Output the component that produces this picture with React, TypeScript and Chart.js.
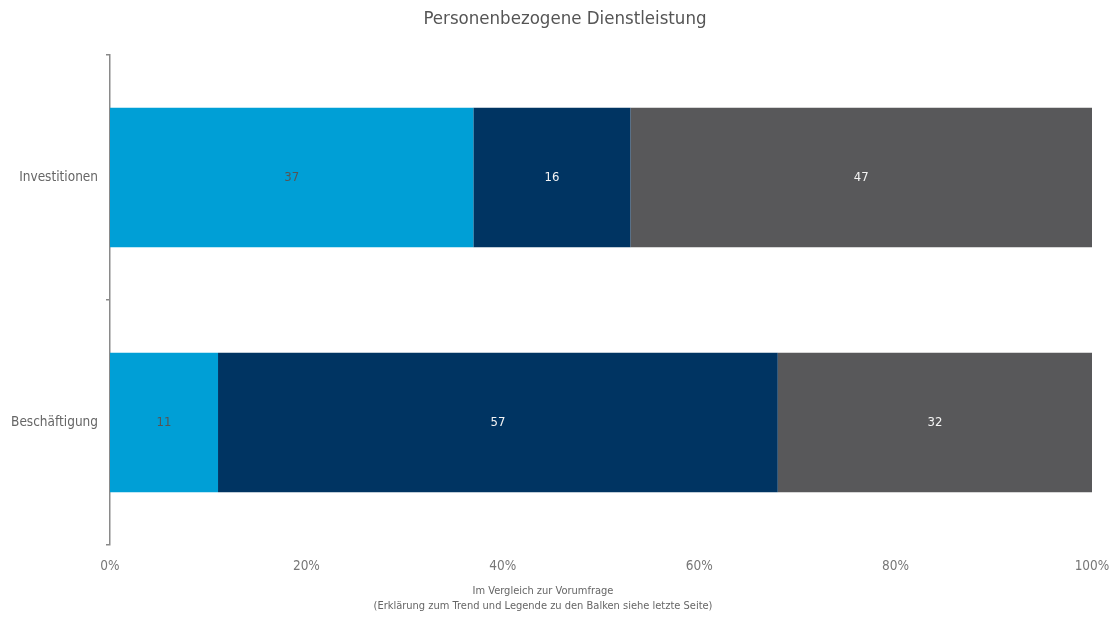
import React, { useEffect, useRef } from "react";
import { Chart, registerables } from "chart.js";

Chart.register(...registerables);

const categories = ["Investitionen", "Beschäftigung"];
const lightValues = [37, 11];
const darkValues = [16, 57];
const greyValues = [47, 32];
const xTicks = [0, 20, 40, 60, 80, 100];
const titleText = "Personenbezogene Dienstleistung";
const footerLines = [
  "Im Vergleich zur Vorumfrage",
  "(Erklärung zum Trend und Legende zu den Balken siehe letzte Seite)",
];

const FONT = '"DejaVu Sans Condensed", "Liberation Sans Narrow", sans-serif';

const textPlugin = {
  id: "texts",
  afterDraw(chart: any) {
    const ctx = chart.ctx;
    ctx.save();
    ctx.textAlign = "center";
    ctx.textBaseline = "middle";
    ctx.fillStyle = "#555";
    ctx.font = `18.5px ${FONT}`;
    ctx.fillText(titleText, 565, 19);
    ctx.font = `11px ${FONT}`;
    ctx.fillStyle = "#666";
    ctx.fillText(footerLines[0], 543, 591);
    ctx.fillText(footerLines[1], 543, 606);
    ctx.font = `13px ${FONT}`;
    chart.data.datasets.forEach((ds: any, di: number) => {
      const meta = chart.getDatasetMeta(di);
      meta.data.forEach((el: any, i: number) => {
        const v = ds.data[i];
        const x = (el.x + el.base) / 2;
        ctx.fillStyle = di === 0 ? "#555" : "#f4f4f4";
        ctx.fillText(String(v), x, el.y);
      });
    });
    ctx.restore();
  },
};

export default function App() {
  const ref = useRef<HTMLCanvasElement | null>(null);
  useEffect(() => {
    if (!ref.current) return;
    const chart = new Chart(ref.current, {
      type: "bar",
      data: {
        labels: categories,
        datasets: [
          { data: lightValues, backgroundColor: "#009fd6", barPercentage: 0.57, categoryPercentage: 1 },
          { data: darkValues, backgroundColor: "#003462", barPercentage: 0.57, categoryPercentage: 1 },
          { data: greyValues, backgroundColor: "#58585a", barPercentage: 0.57, categoryPercentage: 1 },
        ],
      },
      options: {
        indexAxis: "y",
        animation: false,
        responsive: true,
        maintainAspectRatio: false,
        layout: { padding: { top: 55, right: 23, left: 0, bottom: 0 } },
        plugins: { legend: { display: false }, tooltip: { enabled: false }, title: { display: false } },
        scales: {
          x: {
            stacked: true,
            min: 0,
            max: 100,
            afterFit(scale: any) {
              scale.height = 73;
              scale.paddingLeft = 0;
              scale.paddingRight = 0;
            },
            afterBuildTicks(scale: any) {
              scale.ticks = xTicks.map((v) => ({ value: v }));
            },
            border: { display: false },
            grid: { display: false, drawTicks: false },
            ticks: {
              padding: 13,
              color: "#777",
              font: { family: FONT, size: 13.5 },
              callback: (v: any) => `${v}%`,
              maxRotation: 0,
            },
          },
          y: {
            stacked: true,
            afterFit(scale: any) {
              scale.width = 110;
              scale.paddingTop = 0;
              scale.paddingBottom = 0;
            },
            border: { display: true, color: "#8a8a8a", width: 1.5 },
            grid: {
              display: true,
              drawOnChartArea: false,
              drawTicks: true,
              tickLength: 4,
              offset: true,
              color: "#8a8a8a",
              lineWidth: 1.5,
            },
            ticks: {
              padding: 8,
              color: "#666",
              font: { family: FONT, size: 13.5 },
            },
          },
        },
      },
      plugins: [textPlugin],
    });
    return () => chart.destroy();
  }, []);
  return (
    <div style={{ position: "fixed", left: 0, top: 0, width: 1115, height: 618, background: "#fff" }}>
      <canvas ref={ref} />
    </div>
  );
}
